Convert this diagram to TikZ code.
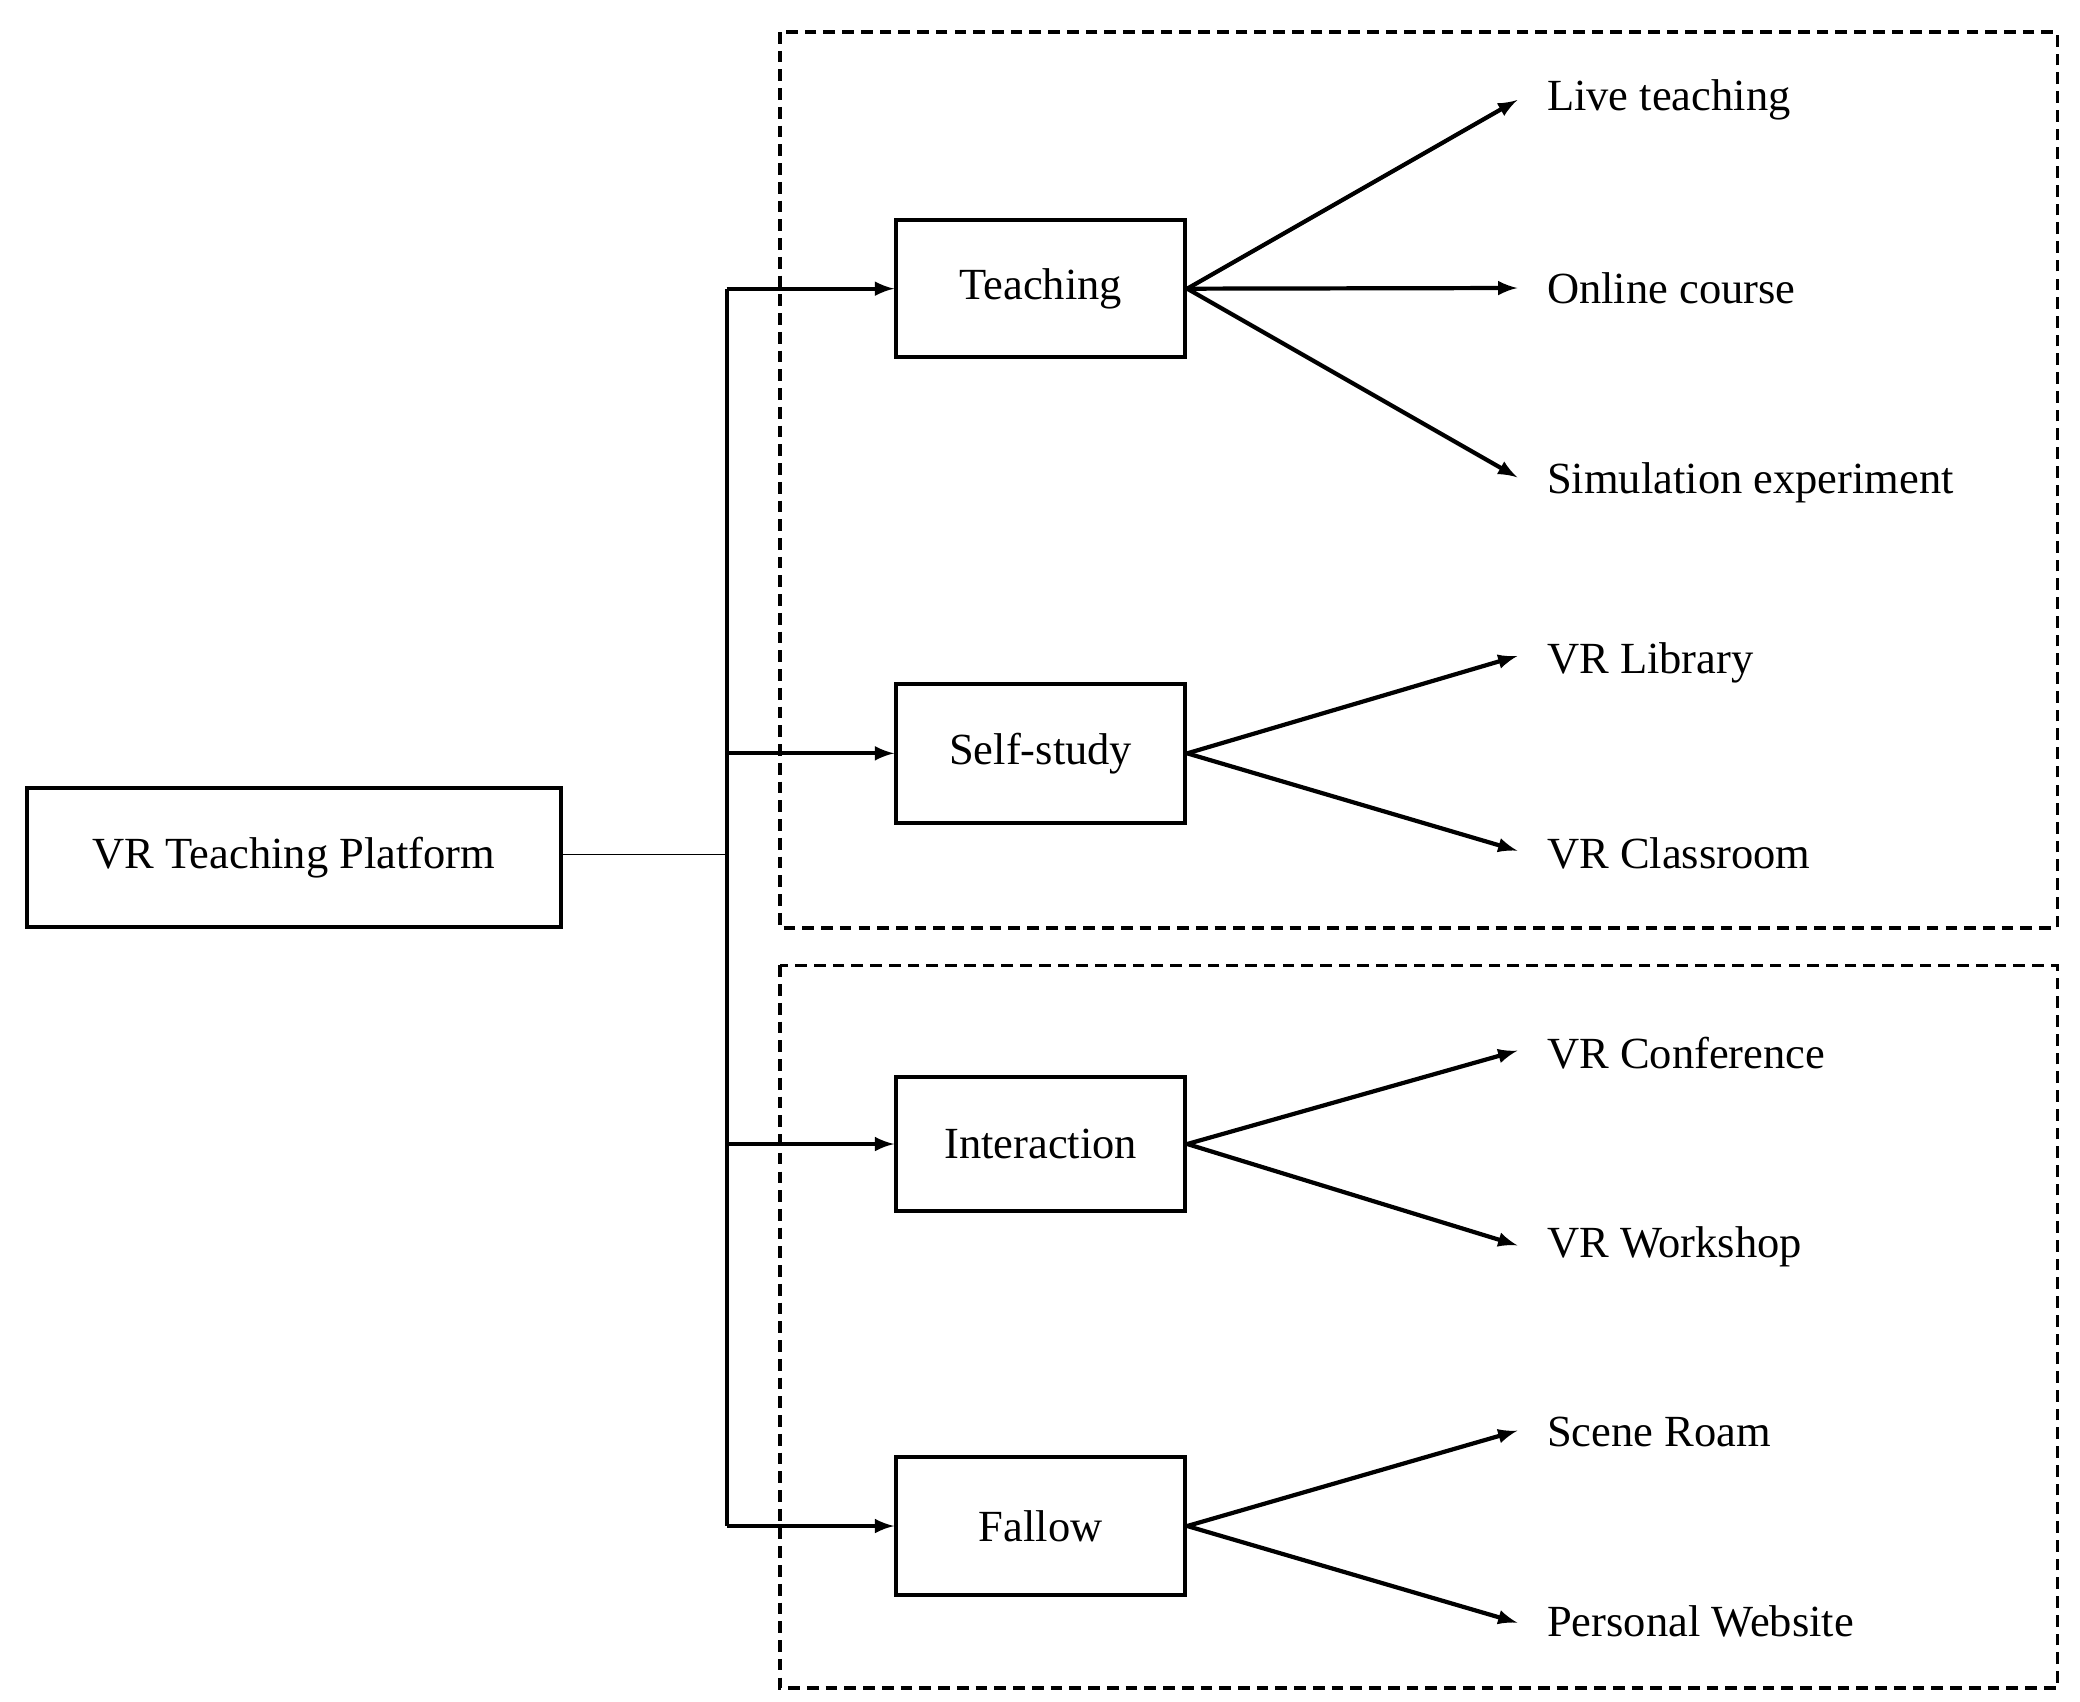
\documentclass[tikz,border=0pt]{standalone}
\usepackage{fontspec}
\setmainfont{Liberation Serif}
\begin{document}
\begin{tikzpicture}[x=0.02cm,y=-0.02cm,
 box/.style={draw,line width=1.6pt,inner sep=0pt},
 arr/.style={line width=1.8pt,-latex},
 lab/.style={anchor=west,font=\fontsize{19}{22}\selectfont,inner sep=0pt},
 dsh/.style={line width=1.4pt,dash pattern=on 5pt off 3pt}]
\useasboundingbox (0,0) rectangle (1560,1276);
\node[box,minimum width=401*0.02cm,minimum height=104*0.02cm,font=\fontsize{19}{22}\selectfont] (vr) at (220.5,643) {VR Teaching Platform};
\foreach \n/\t/\y/\h in {te/Teaching/216.5/103,ss/Self-study/565/104,in/Interaction/858/100,fa/Fallow/1144.5/103}
 \node[box,minimum width=217*0.02cm,minimum height=\h*0.02cm,font=\fontsize{19}{22}\selectfont] (\n) at (780.5,\y) {\t};
\draw[dsh] (585,24) rectangle (1543,696);
\draw[dsh] (585,724) rectangle (1543,1266);
\coordinate (j) at (545,641);
\coordinate (jt) at (545,216.5);
\coordinate (jf) at (545,1144.5);
\draw[line width=0.6pt] (vr.east|-j) -- (j);
\draw[line width=1.8pt] (jt) -- (jf);
\foreach \n in {te,ss,in,fa} \draw[arr] (jt|-\n) -- (\n.west);
\foreach \n/\t/\y in {l1/Live teaching/75,l2/Online course/216,l3/Simulation experiment/362,l4/VR Library/497,l5/VR Classroom/640,l6/VR Conference/790,l7/VR Workshop/935,l8/Scene Roam/1074,l9/Personal Website/1216}
 \node[lab] (\n) at (1160,\y) {\t};
\foreach \s/\n/\y in {te/l1/75,te/l2/216,te/l3/358,ss/l4/492,ss/l5/638,in/l6/788,in/l7/934,fa/l8/1073,fa/l9/1217}
 \draw[arr] (\s.east) -- (1138,\y);
\end{tikzpicture}
\end{document}
